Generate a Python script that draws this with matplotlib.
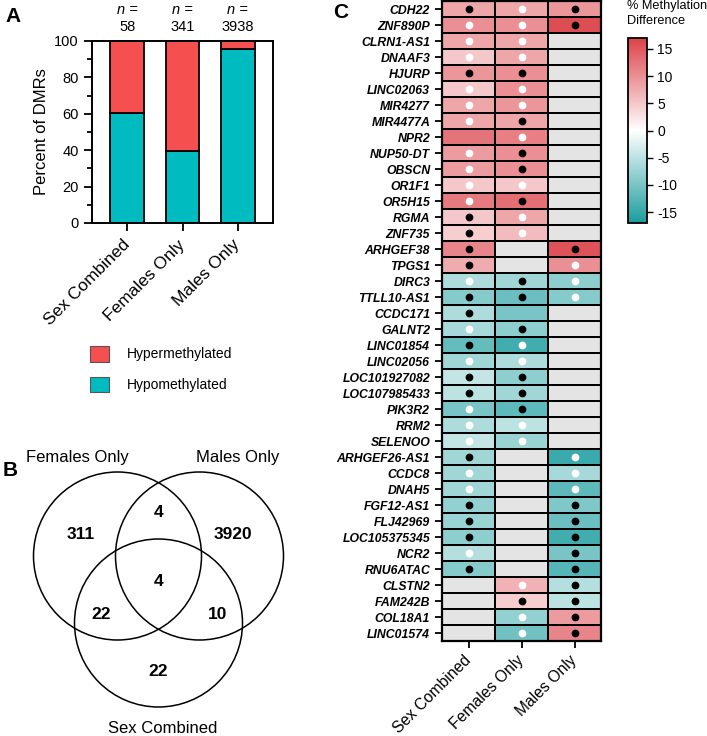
import matplotlib
matplotlib.use('Agg')
import matplotlib.pyplot as plt
import numpy as np
from matplotlib.colors import LinearSegmentedColormap
from matplotlib.patches import Patch, Circle

plt.rcParams['font.family'] = ['Liberation Sans', 'DejaVu Sans']
plt.rcParams['axes.unicode_minus'] = False

# --- panel A data
groups = ['Sex Combined', 'Females Only', 'Males Only']
n_dmrs = [58, 341, 3938]
hypo_pct = [60.3, 39.6, 95.5]
hyper_pct = [100 - v for v in hypo_pct]
hyper_col = '#f54f4f'
hypo_col = '#00bcc1'

# --- panel B data
venn_sets = ['Females Only', 'Males Only', 'Sex Combined']
# F only, M only, SC only, F&M, F&SC, M&SC, all three
venn_counts = [311, 3920, 22, 4, 22, 10, 4]

# --- panel C data
genes = ['CDH22', 'ZNF890P', 'CLRN1-AS1', 'DNAAF3', 'HJURP', 'LINC02063', 'MIR4277',
         'MIR4477A', 'NPR2', 'NUP50-DT', 'OBSCN', 'OR1F1', 'OR5H15', 'RGMA', 'ZNF735',
         'ARHGEF38', 'TPGS1', 'DIRC3', 'TTLL10-AS1', 'CCDC171', 'GALNT2', 'LINC01854',
         'LINC02056', 'LOC101927082', 'LOC107985433', 'PIK3R2', 'RRM2', 'SELENOO',
         'ARHGEF26-AS1', 'CCDC8', 'DNAH5', 'FGF12-AS1', 'FLJ42969', 'LOC105375345',
         'NCR2', 'RNU6ATAC', 'CLSTN2', 'FAM242B', 'COL18A1', 'LINC01574']
nan = np.nan
sc_diff = [8, 10, 8, 5, 9.5, 5, 8, 8, 12.5, 9, 9, 5, 12, 5, 4.5, 11, 7.5,
           -6, -9, -6, -6.5, -11.5, -7, -4.5, -5, -10, -6, -4.5,
           -7, -7, -7, -8, -7.5, -8.5, -5.5, -9, nan, nan, nan, nan]
f_diff = [8, 10, 8, 8, 10, 10, 9.5, 8, 11.5, 10, 10, 5, 13, 8, 6, nan, nan,
          -7, -11, -10, -8.5, -14, -6, -8.5, -7, -12, -5, -7.5,
          nan, nan, nan, nan, nan, nan, nan, nan, 7, 4.5, -8, -10.5]
m_diff = [9.5, 16, nan, nan, nan, nan, nan, nan, nan, nan, nan, nan, nan, nan, nan, 15.5, 10,
          -8.5, -9, nan, nan, nan, nan, nan, nan, nan, nan, nan,
          -14.5, -6.5, -12, -9.5, -11, -14, -10, -12.5, -5.5, -5, 9, 11]
# b = black dot, w = white dot, - = no dot
sc_dot = list('bwwwbwww-wwwwbbbbwbbwbwbbwwwbwwbbbwb----')
f_dot = list('wwwwbwwbwbbwbww--bb-bwwbbbww--------wbww')
m_dot = list('bb-------------bwww---------wwwbbbbbbbbb')

W, H = 707, 736
fig = plt.figure(figsize=(W / 100, H / 100), dpi=100)


def box(x0, y0, x1, y1):
    return [x0 / W, 1 - y1 / H, (x1 - x0) / W, (y1 - y0) / H]


# ================= A: stacked bars
axA = fig.add_axes(box(92, 41, 273, 223))
x = np.arange(len(groups))
axA.bar(x, hypo_pct, width=0.61, color=hypo_col, edgecolor='black', linewidth=1.3)
axA.bar(x, hyper_pct, bottom=hypo_pct, width=0.61, color=hyper_col, edgecolor='black', linewidth=1.3)
axA.set_xlim(-0.64, 2.64)
axA.set_ylim(0, 100)
axA.set_yticks(range(0, 101, 20))
axA.set_yticks(range(10, 100, 20), minor=True)
axA.tick_params(axis='y', labelsize=10.5, length=6, width=1.3)
axA.tick_params(axis='y', which='minor', length=3.5, width=1.3)
axA.set_xticks(x)
axA.set_xticklabels(groups, rotation=45, ha='right', va='center', rotation_mode='anchor', fontsize=12.5)
axA.tick_params(axis='x', length=6, width=1.3, pad=8)
axA.set_ylabel('Percent of DMRs', fontsize=12, labelpad=4)
for s in axA.spines.values():
    s.set_linewidth(1.4)
for i, n in enumerate(n_dmrs):
    axA.text(i, 1.17, 'n =', transform=axA.get_xaxis_transform(), ha='center', va='center',
             fontsize=10.5, fontstyle='italic')
    axA.text(i, 1.075, str(n), transform=axA.get_xaxis_transform(), ha='center', va='center',
             fontsize=10.5)

handles = [Patch(facecolor=hyper_col, edgecolor='#555555', linewidth=0.8),
           Patch(facecolor=hypo_col, edgecolor='#555555', linewidth=0.8)]
fig.legend(handles, ['Hypermethylated', 'Hypomethylated'], loc='upper left',
           bbox_to_anchor=(90 / W, 1 - 346 / H), frameon=False, fontsize=10,
           borderpad=0, borderaxespad=0, handlelength=1.4, handleheight=1.35,
           handletextpad=1.25, labelspacing=1.1)

# ================= B: venn (pixel units)
axB = fig.add_axes(box(0, 436, 300, 736))
axB.set_xlim(0, 300)
axB.set_ylim(736, 436)
axB.axis('off')
r = 84
centers = [(117.5, 556), (199.5, 556), (158.5, 623)]
for c in centers:
    axB.add_patch(Circle(c, r, fill=False, edgecolor='black', linewidth=1.1))
(fx, fy), (mx, my), (sx, sy) = centers
axB.text(fx - 40, fy - r - 14, venn_sets[0], ha='center', va='center', fontsize=12)
axB.text(mx + 38, my - r - 14, venn_sets[1], ha='center', va='center', fontsize=12)
axB.text(sx + 4, sy + r + 22, venn_sets[2], ha='center', va='center', fontsize=12)
spots = [(fx - 37, fy - 21), (mx + 33, my - 21), (sx, sy + 49),
         ((fx + mx) / 2, fy - 43), (fx - 16, sy - 8), (mx + 18, sy - 8),
         ((fx + mx) / 2, sy - 41)]
for (px, py), cnt in zip(spots, venn_counts):
    axB.text(px, py, str(cnt), ha='center', va='center', fontsize=12.5, fontweight='bold')

# ================= C: heatmap
axC = fig.add_axes(box(442, 1, 601, 641))
data = np.array([sc_diff, f_diff, m_diff]).T
cmap = LinearSegmentedColormap.from_list('meth', ['#1b9c9e', '#ffffff', '#db434a'])
cmap.set_bad('#e4e4e4')
mesh = axC.pcolormesh(np.arange(4), np.arange(len(genes) + 1), np.ma.masked_invalid(data),
                      cmap=cmap, vmin=-17, vmax=17, edgecolors='black', linewidth=1.2)
axC.set_xlim(0, 3)
axC.set_ylim(len(genes), 0)
for j, dots in enumerate([sc_dot, f_dot, m_dot]):
    for i, d in enumerate(dots):
        if d != '-':
            axC.scatter(j + 0.5, i + 0.5, s=31, color='black' if d == 'b' else 'white',
                        linewidths=0, zorder=3)
axC.set_yticks(np.arange(len(genes)) + 0.5)
axC.set_yticklabels(genes, fontsize=8.8, fontweight='bold', fontstyle='italic')
axC.set_xticks(np.arange(3) + 0.5)
axC.set_xticklabels(groups, rotation=45, ha='right', va='center', rotation_mode='anchor', fontsize=11.3)
axC.tick_params(axis='both', length=5, width=1.3)
axC.tick_params(axis='x', pad=7)
for s in axC.spines.values():
    s.set_linewidth(1.6)

cax = fig.add_axes(box(628, 38, 647, 223))
cb = fig.colorbar(mesh, cax=cax, ticks=[-15, -10, -5, 0, 5, 10, 15])
cb.outline.set_linewidth(1.3)
cax.tick_params(labelsize=10, length=4, width=1)
fig.text(627 / W, 1 - 0 / H, '% Methylation\nDifference', ha='left', va='top', fontsize=9.2,
         linespacing=1.3)

# panel letters
fig.text(5 / W, 1 - 16 / H, 'A', fontsize=15, fontweight='bold', va='center', ha='left')
fig.text(3 / W, 1 - 471 / H, 'B', fontsize=15, fontweight='bold', va='center', ha='left')
fig.text(333 / W, 1 - 12 / H, 'C', fontsize=15, fontweight='bold', va='center', ha='left')

fig.savefig('out.png', dpi=100)
